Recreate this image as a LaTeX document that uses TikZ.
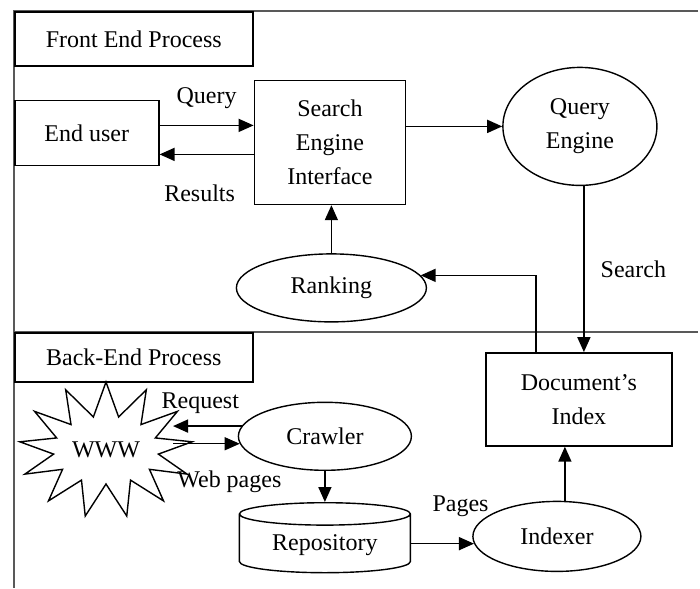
\documentclass[tikz,border=0pt]{standalone}
\usepackage{fontspec}
\setmainfont{Liberation Serif}
\usetikzlibrary{positioning,shapes.geometric,shapes.symbols,arrows.meta}

\begin{document}
\begin{tikzpicture}[x=1pt,y=-1pt,font=\fontsize{24}{34}\selectfont,
    box/.style={draw,line width=1.6pt,align=center,inner sep=2pt},
    oval/.style={draw,ellipse,line width=1.4pt,align=center,inner sep=0pt},
    arr/.style={-{Triangle[length=15pt,width=13pt]},line width=1.6pt},
    lbl/.style={inner sep=2pt},
    frame/.style={draw=black!65,line width=2pt}] %
    \useasboundingbox (0,0) rectangle (700,588);
    \draw[frame] (698,11) -| (14,588);
    \draw[frame] (14,332) -- (698,332);
    \node[box,anchor=north west,minimum width=238pt,minimum height=54pt] (front) at (14,11) {Front End Process};
    \node[box,anchor=north west,minimum width=238pt,minimum height=49pt] (back) at (14,332) {Back-End Process};
    \node[box, below=33pt of front.south west, anchor=north west, minimum width=144pt, minimum height=65pt] (enduser) {End user};
    \node[box, right=94pt of enduser, yshift=-9.5pt, minimum width=151pt, minimum height=124pt] (sei) {Search\\Engine\\Interface};
    \node[oval, right=96pt of sei, yshift=16pt, minimum width=154pt, minimum height=118pt] (qengine) {Query\\Engine};
    \node[box, below=166pt of qengine, xshift=-1pt, minimum width=186pt, minimum height=93pt] (docidx) {Document's\\Index};
    \node[oval, below=48pt of sei, xshift=1.5pt, minimum width=190pt, minimum height=68pt] (ranking) {Ranking};
    \node[oval, below=79pt of ranking, xshift=-6.5pt, minimum width=173pt, minimum height=68pt] (crawler) {Crawler};
    \node[draw, cylinder, shape border rotate=90, aspect=0.2, line width=1.4pt, below=31pt of crawler, anchor=top, minimum width=171pt, minimum height=70pt] (repo) {Repository};
    \node[oval, below=54pt of docidx, xshift=-22pt, minimum width=168pt, minimum height=70pt] (indexer) {Indexer};
    \node[draw, fill=white, starburst, line width=1.4pt, starburst points=13, starburst point height=34pt, random starburst=0, minimum width=150pt, minimum height=136pt] (www) at (106,450) {WWW};
    \coordinate (wwwR) at ([xshift=67pt]www.center);
    \draw[arr] ([yshift=7.5pt]enduser.east) -- ([yshift=7.5pt]enduser.east -| sei.west) node[lbl, midway, above=14pt] {Query};
    \draw[arr] ([yshift=-21.5pt]enduser.east -| sei.west) -- ([yshift=-21.5pt]enduser.east) node[lbl, midway, below=28pt, xshift=-7pt] {Results};
    \draw[arr] (sei.east |- qengine.west) -- (qengine.west);
    \draw[arr] ([xshift=4pt]qengine.south) -- ([xshift=4pt]qengine.south |- docidx.north) node[lbl, midway, right=14pt] {Search};
    \draw[arr] ([xshift=-43pt]docidx.north) |- (ranking.8);
    \draw[arr] (ranking.north) -- (ranking.north |- sei.south);
    \draw[arr] (crawler.173) -- (crawler.173 -| wwwR) node[lbl, midway, above=10pt, xshift=-7pt] {Request};
    \draw[-{Triangle[length=15pt,width=13pt]},line width=1pt] (wwwR |- crawler.185) -- (crawler.185) node[lbl, midway, below=25pt, xshift=23pt] {Web pages};
    \draw[arr] (crawler.south) -- (repo.top);
    \draw[arr] (indexer.185 -| repo.east) -- (indexer.185) node[lbl, midway, above=24pt, xshift=18pt] {Pages};
    \draw[arr] ([xshift=8pt]indexer.north) -- ([xshift=8pt]indexer.north |- docidx.south);
  \end{tikzpicture}
\end{document}
